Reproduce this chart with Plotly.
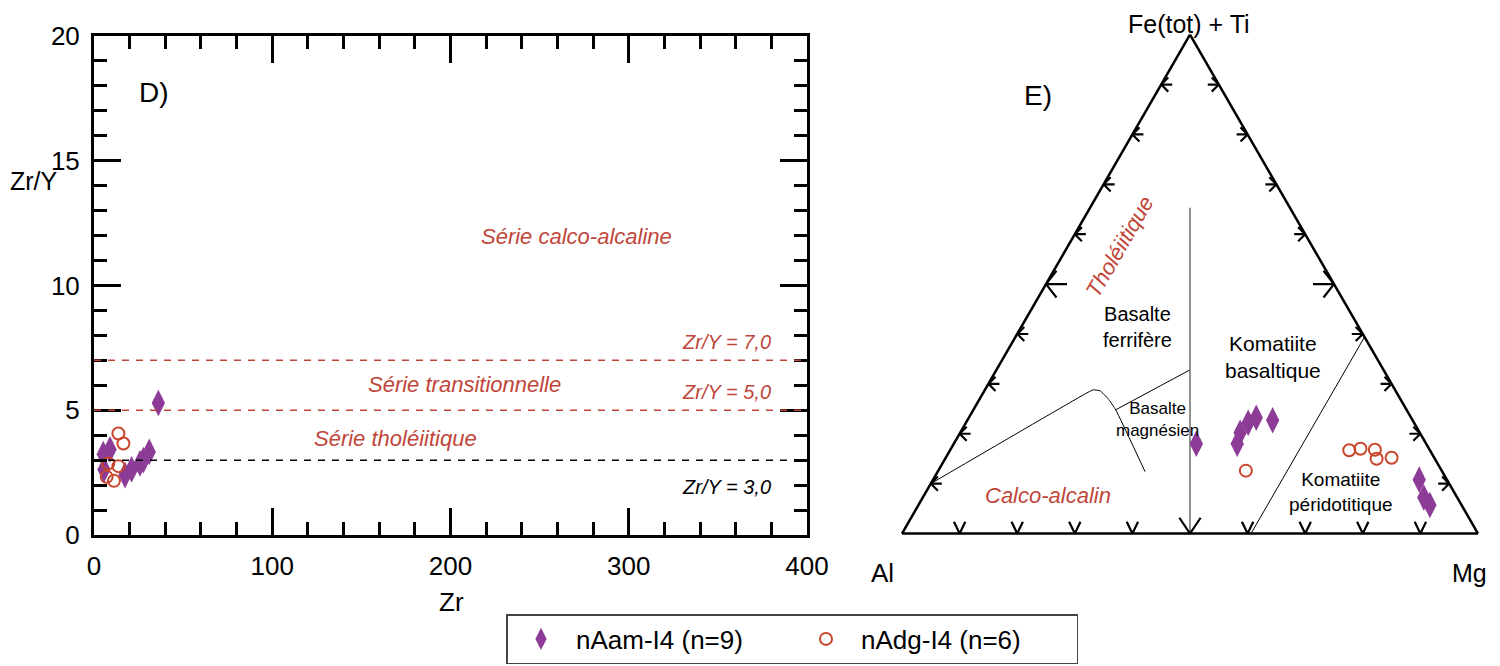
import numpy as np
import plotly.graph_objects as go

# ---- D) Zr vs Zr/Y ----
zr_aam = [36.1, 5.2, 9.0, 5.6, 17.4, 21.1, 25.8, 27.7, 31.0]
zry_aam = [5.29, 3.24, 3.43, 2.63, 2.40, 2.63, 2.87, 3.00, 3.33]
zr_adg = [13.7, 16.5, 8.0, 13.7, 7.1, 11.2]
zry_adg = [4.07, 3.67, 2.87, 2.76, 2.33, 2.17]

zry_limits = [7.0, 5.0, 3.0]
limit_labels = ["Zr/Y = 7,0", "Zr/Y = 5,0", "Zr/Y = 3,0"]

# ---- E) Jensen cation plot (% Fe(tot)+Ti, Al, Mg) ----
fe_aam = [18.0, 18.0, 20.2, 22.2, 23.2, 22.7, 10.8, 7.2, 5.7]
al_aam = [39.9, 32.8, 31.2, 28.8, 26.9, 24.3, 4.8, 5.8, 5.5]
mg_aam = [42.1, 49.2, 48.6, 49.0, 49.9, 53.0, 84.4, 87.0, 88.8]
fe_adg = [16.7, 17.0, 16.8, 15.0, 15.2, 12.6]
al_adg = [14.0, 11.9, 9.5, 10.1, 7.4, 34.0]
mg_adg = [69.3, 71.1, 73.7, 74.9, 77.4, 53.4]

# field boundaries (Fe+Ti, Al, Mg)
calc_fe = [10.0, 28.0, 28.8, 28.6, 27.0, 24.8, 12.4]
calc_al = [90.0, 54.2, 52.4, 51.3, 50.7, 50.5, 51.6]
calc_mg = [0.0, 17.8, 18.8, 20.1, 22.3, 24.7, 36.0]
mgb_fe = [24.8, 32.8]
mgb_al = [50.5, 33.6]
mgb_mg = [24.7, 33.6]
mid_fe = [0.0, 65.3]
mid_al = [50.0, 17.35]
mid_mg = [50.0, 17.35]
kom_fe = [0.0, 39.4]
kom_al = [39.4, 0.0]
kom_mg = [60.6, 60.6]

tern_ticks = [0.1, 0.2, 0.3, 0.4, 0.5, 0.6, 0.7, 0.8, 0.9]

PURPLE = "#8c3c96"
RED = "#c8462d"
TXT_RED = "#c0463a"
FONT = "Liberation Sans, Arial, sans-serif"
W, H = 1500, 666
OFF = 8  # page body margin


def px(x):
    return (x - OFF) / W


def py(y):
    return 1 - (y - OFF) / H


S3 = np.sqrt(3) / 2
SIDE_PX = 576.0


def tern_to_xy(a, b, c):
    return c + a / 2, a * S3


def xy_to_tern(x, y):
    a = y / S3
    c = x - a / 2
    b = 1 - a - c
    return [max(0.0, round(100 * v, 6)) for v in (a, b, c)]


def chevrons(ticks):
    fa, fb, fc = [], [], []

    def add(points):
        for p in points:
            t = xy_to_tern(*p)
            fa.append(t[0])
            fb.append(t[1])
            fc.append(t[2])
        fa.append(None)
        fb.append(None)
        fc.append(None)

    for t in ticks:
        big = abs(t - 0.5) < 1e-9
        shaft = (21 if big else 11) / SIDE_PX
        arm = (17 if big else 10) / SIDE_PX
        ang = np.radians(52 if big else 45)
        ca, sa = np.cos(ang), np.sin(ang)
        # left side, arrows point left
        x, y = tern_to_xy(t, 1 - t, 0)
        add([(x + shaft, y), (x, y)])
        add([(x + arm * ca, y + arm * sa), (x, y), (x + arm * ca, y - arm * sa)])
        # right side, arrows point right
        x, y = tern_to_xy(t, 0, 1 - t)
        add([(x - shaft, y), (x, y)])
        add([(x - arm * ca, y + arm * sa), (x, y), (x - arm * ca, y - arm * sa)])
        # bottom, arrows point down
        vlen = (19 if big else 13) / SIDE_PX
        phi = np.radians(34 if big else 26)
        x, y = tern_to_xy(0, 1 - t, t)
        add([(x - vlen * np.sin(phi), y + vlen * np.cos(phi)), (x, y),
             (x + vlen * np.sin(phi), y + vlen * np.cos(phi))])
    return fa, fb, fc


fig = go.Figure()

# left scatter
fig.add_trace(go.Scatter(
    x=zr_aam, y=zry_aam, mode="markers", name="nAam-I4 (n=9)",
    legendgroup="aam",
    marker=dict(symbol="diamond-tall", size=19, color=PURPLE),
    cliponaxis=False,
))
fig.add_trace(go.Scatter(
    x=zr_adg, y=zry_adg, mode="markers", name="nAdg-I4 (n=6)",
    legendgroup="adg",
    marker=dict(symbol="circle-open", size=12, color=RED, line=dict(width=2)),
    cliponaxis=False,
))

for v, col in zip(zry_limits, [TXT_RED, TXT_RED, "black"]):
    fig.add_hline(y=v, line=dict(color=col, width=1.5, dash="7px,7px"))

# ternary boundaries
line_kw = dict(mode="lines", showlegend=False, hoverinfo="skip", subplot="ternary")
fig.add_trace(go.Scatterternary(a=calc_fe, b=calc_al, c=calc_mg,
                                line=dict(color="black", width=1, shape="spline", smoothing=0.4),
                                **line_kw))
fig.add_trace(go.Scatterternary(a=mgb_fe, b=mgb_al, c=mgb_mg,
                                line=dict(color="black", width=1), **line_kw))
fig.add_trace(go.Scatterternary(a=mid_fe, b=mid_al, c=mid_mg,
                                line=dict(color="#555555", width=1.3), **line_kw))
fig.add_trace(go.Scatterternary(a=kom_fe, b=kom_al, c=kom_mg,
                                line=dict(color="black", width=1), **line_kw))
ca_, cb_, cc_ = chevrons(tern_ticks)
fig.add_trace(go.Scatterternary(a=ca_, b=cb_, c=cc_, cliponaxis=False,
                                line=dict(color="black", width=2.2), **line_kw))

fig.add_trace(go.Scatterternary(
    a=fe_aam, b=al_aam, c=mg_aam, mode="markers", name="nAam-I4 (n=9)",
    legendgroup="aam", showlegend=False,
    marker=dict(symbol="diamond-tall", size=19, color=PURPLE),
))
fig.add_trace(go.Scatterternary(
    a=fe_adg, b=al_adg, c=mg_adg, mode="markers", name="nAdg-I4 (n=6)",
    legendgroup="adg", showlegend=False,
    marker=dict(symbol="circle-open", size=12, color=RED, line=dict(width=2)),
))

tern_axis = dict(showticklabels=False, ticks="", showgrid=False, showline=True,
                 linecolor="black", linewidth=2.5, title=dict(text=""))

axis_common = dict(showline=True, linecolor="black", linewidth=3, mirror="ticks",
                   ticks="inside", tickwidth=2.5, ticklen=27, tickcolor="black",
                   showgrid=False, zeroline=False, automargin=False,
                   tickfont=dict(size=26, color="black", family=FONT))

fig.update_layout(
    width=W, height=H,
    margin=dict(l=0, r=0, t=0, b=0, pad=0),
    paper_bgcolor="white", plot_bgcolor="white",
    font=dict(family=FONT, color="black"),
    xaxis=dict(domain=[px(94), px(807)], range=[0, 400], dtick=100,
               minor=dict(dtick=20, ticks="inside", ticklen=13, tickwidth=2.5, tickcolor="black"),
               ticklabelstandoff=6, **axis_common),
    yaxis=dict(domain=[py(535), py(36)], range=[0, 20], dtick=5,
               minor=dict(dtick=1, ticks="inside", ticklen=13, tickwidth=2.5, tickcolor="black"),
               ticklabelstandoff=6, **axis_common),
    ternary=dict(
        sum=100,
        domain=dict(x=[px(902), px(1478)], y=[py(533.5), py(34.7)]),
        bgcolor="white",
        aaxis=tern_axis, baxis=tern_axis, caxis=tern_axis,
    ),
    legend=dict(orientation="h", x=px(506), y=py(614), xanchor="left", yanchor="top",
                bordercolor="#444444", borderwidth=1.5, bgcolor="white",
                font=dict(size=26, family=FONT, color="black"),
                itemwidth=60, entrywidth=210, entrywidthmode="pixels"),
    showlegend=True,
)


def note(x, y, text, size, color="black", italic=False, angle=0, align="center", xanchor="center"):
    if italic:
        text = "<i>" + text + "</i>"
    fig.add_annotation(x=px(x), y=py(y), xref="paper", yref="paper", text=text,
                       showarrow=False, font=dict(size=size, color=color, family=FONT),
                       textangle=angle, align=align, xanchor=xanchor, yanchor="middle")


# left plot texts
note(34, 181, "Zr/Y", 25)
note(451, 602, "Zr", 26)
note(154, 93, "D)", 28)
note(576, 237, "Série calco-alcaline", 22, TXT_RED, italic=True)
note(465, 384, "Série transitionnelle", 22, TXT_RED, italic=True)
note(395, 438, "Série tholéiitique", 22, TXT_RED, italic=True)
for v, lab, col in zip(zry_limits, limit_labels, [TXT_RED, TXT_RED, "black"]):
    ly = 535 - 25 * v
    off = -18 if v != 3.0 else 27
    note(773, ly + off, lab, 20, col, italic=True, xanchor="right")

# ternary texts
note(1189, 24, "Fe(tot) + Ti", 25)
note(882, 573, "Al", 26)
note(1489, 573, "Mg", 25, xanchor="right")
note(1038, 95, "E)", 28)
note(1120, 247, "Tholéiitique", 22, TXT_RED, italic=True, angle=-60)
note(1137, 327, "Basalte<br>ferrifère", 20)
note(1157, 419, "Basalte<br>magnésien", 17)
note(1048, 495, "Calco-alcalin", 22, TXT_RED, italic=True)
note(1273, 357, "Komatiite<br>basaltique", 21)
note(1341, 492, "Komatiite<br>péridotitique", 19)

fig.write_html("out.html")
